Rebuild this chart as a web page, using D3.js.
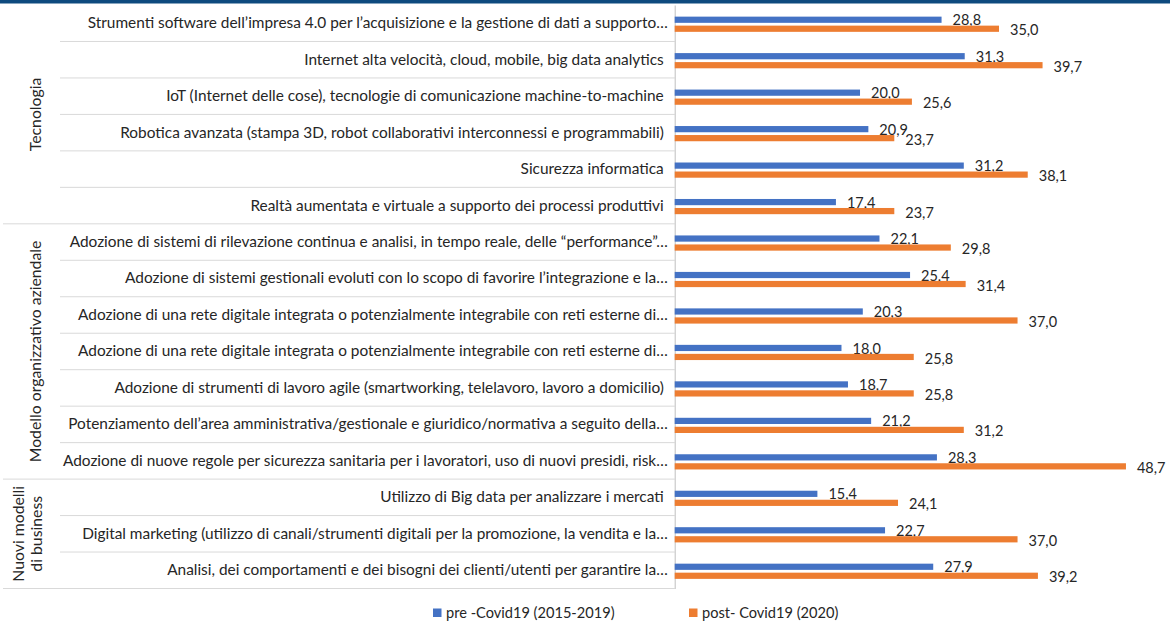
<!DOCTYPE html>
<html>
<head>
<meta charset="utf-8">
<script src="https://cdn.jsdelivr.net/npm/d3@7"></script>
<style>
  body { margin: 0; background: #fff; }
  text { font-family: Lato, "Open Sans", sans-serif; fill: #262626; }
</style>
</head>
<body>
<div id="chart"></div>
<script>
// Data
var categories = [
  "Strumenti software dell\u2019impresa 4.0 per l\u2019acquisizione e la gestione di dati a supporto\u2026",
  "Internet alta velocit\u00e0, cloud, mobile, big data analytics\u00a0",
  "IoT (Internet delle cose), tecnologie di comunicazione machine-to-machine\u00a0",
  "Robotica avanzata (stampa 3D, robot collaborativi interconnessi e programmabili)\u00a0",
  "Sicurezza informatica\u00a0",
  "Realt\u00e0 aumentata e virtuale a supporto dei processi produttivi\u00a0",
  "Adozione di sistemi di rilevazione continua e analisi, in tempo reale, delle \u201cperformance\u201d\u2026",
  "Adozione di sistemi gestionali evoluti con lo scopo di favorire l\u2019integrazione e la\u2026",
  "Adozione di una rete digitale integrata o potenzialmente integrabile con reti esterne di\u2026",
  "Adozione di una rete digitale integrata o potenzialmente integrabile con reti esterne di\u2026",
  "Adozione di strumenti di lavoro agile (smartworking, telelavoro, lavoro a domicilio)\u00a0",
  "Potenziamento dell\u2019area amministrativa/gestionale e giuridico/normativa a seguito della\u2026",
  "Adozione di nuove regole per sicurezza sanitaria per i lavoratori, uso di nuovi presidi, risk\u2026",
  "Utilizzo di Big data per analizzare i mercati\u00a0",
  "Digital marketing (utilizzo di canali/strumenti digitali per la promozione, la vendita e la\u2026",
  "Analisi, dei comportamenti e dei bisogni dei clienti/utenti per garantire la\u2026"
];

var preCovid  = [28.8, 31.3, 20.0, 20.9, 31.2, 17.4, 22.1, 25.4, 20.3, 18.0, 18.7, 21.2, 28.3, 15.4, 22.7, 27.9];
var postCovid = [35.0, 39.7, 25.6, 23.7, 38.1, 23.7, 29.8, 31.4, 37.0, 25.8, 25.8, 31.2, 48.7, 24.1, 37.0, 39.2];

var groupNames = [["Tecnologia"], ["Modello organizzativo aziendale"], ["Nuovi modelli", "di business"]];
var groupSizes = [6, 7, 3];

var seriesNames = ["pre -Covid19 (2015-2019)", "post- Covid19 (2020)"];
var seriesColors = ["#4472C4", "#ED7D31"];

// Layout
var W = 1170, H = 622;
var plot = {left: 674.7, right: 1138, top: 5, bottom: 588.5};

var svg = d3.select("#chart").append("svg")
  .attr("width", W)
  .attr("height", H);

svg.append("rect").attr("width", W).attr("height", H).attr("fill", "#fff");
// dark strip along the top edge
svg.append("rect").attr("width", W).attr("height", 3.5).attr("fill", "#0E4A7E");

var x = d3.scaleLinear().domain([0, 50]).range([plot.left, plot.right]);
var y = d3.scaleBand()
  .domain(d3.range(categories.length))
  .range([plot.top, plot.bottom])
  .paddingInner(0).paddingOuter(0);

var bw = y.bandwidth();

// row separators (short inside a group, long at group ends)
var groupEnds = [];
groupSizes.reduce(function(acc, n) { groupEnds.push(acc + n - 1); return acc + n; }, 0);

svg.append("g").selectAll("line")
  .data(d3.range(categories.length))
  .enter().append("line")
    .attr("x1", function(i) { return groupEnds.indexOf(i) >= 0 ? 3 : 60; })
    .attr("x2", plot.left)
    .attr("y1", function(i) { return y(i) + bw; })
    .attr("y2", function(i) { return y(i) + bw; })
    .attr("stroke", "#d9d9d9")
    .attr("stroke-width", 1);

// category axis
var yAxis = d3.axisLeft(y)
  .tickSize(0)
  .tickSizeOuter(0)
  .tickPadding(7)
  .tickFormat(function(i) { return categories[i]; });

var ga = svg.append("g")
  .attr("transform", "translate(" + plot.left + ",0)")
  .call(yAxis);
ga.select(".domain").attr("stroke", "#bfbfbf");
ga.selectAll("text")
  .attr("font-family", "Lato, sans-serif")
  .attr("font-size", 15.4)
  .attr("fill", "#262626");

// group labels (rotated)
var start = 0;
groupSizes.forEach(function(n, gi) {
  var cy = (y(start) + y(start + n - 1) + bw) / 2;
  var lines = groupNames[gi];
  var t = svg.append("text")
    .attr("transform", "translate(" + (lines.length > 1 ? 18 : 35) + "," + cy + ") rotate(-90)")
    .attr("text-anchor", "middle")
    .attr("font-size", 15.8);
  lines.forEach(function(s, li) {
    t.append("tspan").attr("x", 0).attr("dy", li === 0 ? "0.35em" : 18.5).text(s);
  });
  start += n;
});

// bars
var barH = 6.2;
var offsets = [-6.6, 2.4];
var series = [preCovid, postCovid];

series.forEach(function(vals, si) {
  var g = svg.append("g");
  g.selectAll("rect")
    .data(vals)
    .enter().append("rect")
      .attr("x", x(0))
      .attr("y", function(d, i) { return y(i) + bw / 2 + offsets[si]; })
      .attr("width", function(d) { return x(d) - x(0); })
      .attr("height", barH)
      .attr("fill", seriesColors[si]);

  g.selectAll("text")
    .data(vals)
    .enter().append("text")
      .attr("x", function(d) { return x(d) + 11; })
      .attr("y", function(d, i) { return y(i) + bw / 2 + offsets[si] + barH / 2 + (si ? 1.5 : 0.5); })
      .attr("dy", "0.35em")
      .attr("font-size", 14.5)
      .attr("fill", "#333")
      .text(function(d) { return d3.format(".1f")(d).replace(".", ","); });
});

// legend
var legendX = [433, 689];
var leg = svg.append("g").selectAll("g")
  .data(seriesNames)
  .enter().append("g")
    .attr("transform", function(d, i) { return "translate(" + legendX[i] + ",608.5)"; });
leg.append("rect").attr("width", 8.5).attr("height", 8.5)
  .attr("fill", function(d, i) { return seriesColors[i]; });
leg.append("text")
  .attr("x", 13).attr("y", 4.3).attr("dy", "0.35em")
  .attr("font-size", 14.6)
  .attr("fill", "#404040")
  .text(function(d) { return d; });
</script>
</body>
</html>
